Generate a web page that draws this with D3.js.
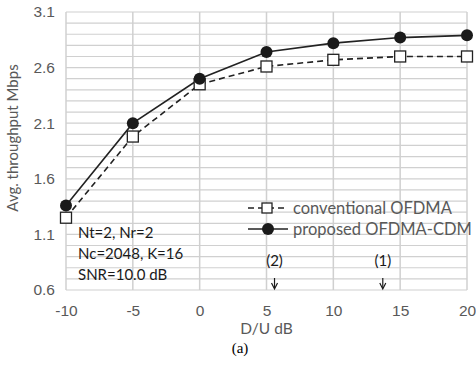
<!DOCTYPE html>
<html>
<head>
<meta charset="utf-8">
<script src="https://cdn.jsdelivr.net/npm/d3@7"></script>
<style>
  body { margin: 0; background: #fff; }
  svg { display: block; font-family: Lato, "Open Sans", sans-serif; }
</style>
</head>
<body>
<svg id="chart" width="476" height="366"></svg>
<script>
const duValues = [-10, -5, 0, 5, 10, 15, 20]
const conventional = [1.25, 1.98, 2.45, 2.61, 2.67, 2.70, 2.70]
const proposed = [1.36, 2.10, 2.50, 2.74, 2.82, 2.87, 2.89]
const yTicks = [0.6, 1.1, 1.6, 2.1, 2.6, 3.1]
const seriesNames = ['conventional OFDMA', 'proposed OFDMA-CDM']
const noteLines = ['Nt=2, Nr=2', 'Nc=2048, K=16', 'SNR=10.0 dB']
const arrowMarks = [{label: '(2)', du: 5.6}, {label: '(1)', du: 13.7}]

const svg = d3.select('#chart')
const margin = {top: 12, right: 9, bottom: 76, left: 66}
const width = 476, height = 366

const x = d3.scaleLinear().domain([-10, 20]).range([margin.left, width - margin.right])
const y = d3.scaleLinear().domain([0.6, 3.1]).range([height - margin.bottom, margin.top])

const gridColor = '#d0d0d0'
const textGrey = '#595959'

// minor horizontal grid every 0.1
const minor = d3.range(0.6, 3.1001, 0.1)
svg.append('g').selectAll('line').data(minor).join('line')
  .attr('x1', x(-10)).attr('x2', x(20))
  .attr('y1', d => y(d)).attr('y2', d => y(d))
  .attr('stroke', gridColor).attr('stroke-width', 1.2)

svg.append('g').selectAll('line').data(duValues).join('line')
  .attr('x1', d => x(d)).attr('x2', d => x(d))
  .attr('y1', y(0.6)).attr('y2', y(3.1))
  .attr('stroke', gridColor).attr('stroke-width', 1.5)

// axes (tick labels only)
const yAxis = svg.append('g')
  .attr('transform', `translate(${margin.left},0)`)
  .call(d3.axisLeft(y).tickValues(yTicks).tickFormat(d => d.toFixed(1)).tickSize(0).tickPadding(11))
yAxis.select('.domain').remove()
yAxis.selectAll('text').attr('fill', textGrey).attr('font-size', 15.5)

const xAxis = svg.append('g')
  .attr('transform', `translate(0,${y(0.6)})`)
  .call(d3.axisBottom(x).tickValues(duValues).tickFormat(d => String(d)).tickSize(0).tickPadding(15))
xAxis.select('.domain').remove()
xAxis.selectAll('text').attr('fill', textGrey).attr('font-size', 15.5)

svg.append('text')
  .attr('x', (x(-10) + x(20)) / 2).attr('y', 334)
  .attr('text-anchor', 'middle').attr('fill', textGrey).attr('font-size', 15.5)
  .text('D/U dB')

svg.append('text')
  .attr('transform', `translate(18,138) rotate(-90)`)
  .attr('text-anchor', 'middle').attr('fill', textGrey).attr('font-size', 15)
  .text('Avg. throughput Mbps')

svg.append('text')
  .attr('x', 240).attr('y', 353)
  .attr('text-anchor', 'middle').attr('font-family', '"Liberation Serif", serif')
  .attr('font-size', 15).attr('fill', '#000')
  .text('(a)')

// series
const line = d3.line().x(d => x(d[0])).y(d => y(d[1]))
const convData = duValues.map((d, i) => [d, conventional[i]])
const propData = duValues.map((d, i) => [d, proposed[i]])

svg.append('path').datum(convData)
  .attr('fill', 'none').attr('stroke', '#222').attr('stroke-width', 1.6)
  .attr('stroke-dasharray', '6,4').attr('d', line)
svg.append('path').datum(propData)
  .attr('fill', 'none').attr('stroke', '#222').attr('stroke-width', 1.6).attr('d', line)

svg.append('g').selectAll('rect').data(convData).join('rect')
  .attr('x', d => x(d[0]) - 5.5).attr('y', d => y(d[1]) - 5.5)
  .attr('width', 11).attr('height', 11)
  .attr('fill', '#fff').attr('stroke', '#222').attr('stroke-width', 1.3)
svg.append('g').selectAll('circle').data(propData).join('circle')
  .attr('cx', d => x(d[0])).attr('cy', d => y(d[1])).attr('r', 6)
  .attr('fill', '#1a1a1a')

// legend
const legend = svg.append('g')
const legY = [208, 229]
legend.append('line').attr('x1', 248).attr('x2', 287).attr('y1', legY[0]).attr('y2', legY[0])
  .attr('stroke', '#222').attr('stroke-width', 1.6).attr('stroke-dasharray', '6,4')
legend.append('rect').attr('x', 262).attr('y', legY[0] - 5).attr('width', 10).attr('height', 10)
  .attr('fill', '#fff').attr('stroke', '#222').attr('stroke-width', 1.3)
legend.append('line').attr('x1', 248).attr('x2', 288).attr('y1', legY[1]).attr('y2', legY[1])
  .attr('stroke', '#222').attr('stroke-width', 1.6)
legend.append('circle').attr('cx', 268).attr('cy', legY[1]).attr('r', 6).attr('fill', '#1a1a1a')
legend.selectAll('text.lab').data(seriesNames).join('text')
  .attr('x', 293).attr('y', (d, i) => legY[i] + 5.5)
  .attr('fill', textGrey).attr('font-size', 16.5)
  .text(d => d)

// parameter note
svg.append('g').selectAll('text').data(noteLines).join('text')
  .attr('x', 78).attr('y', (d, i) => 238 + i * 21)
  .attr('fill', '#1a1a1a').attr('font-size', 15)
  .text(d => d)

// arrows
const arr = svg.append('g').selectAll('g').data(arrowMarks).join('g')
  .attr('transform', d => `translate(${x(d.du)},0)`)
arr.append('text').attr('y', 266).attr('text-anchor', 'middle')
  .attr('fill', '#1a1a1a').attr('font-size', 15).text(d => d.label)
arr.append('line').attr('x1', 0).attr('x2', 0).attr('y1', 278).attr('y2', 288)
  .attr('stroke', '#1a1a1a').attr('stroke-width', 1.2)
arr.append('path').attr('d', 'M-3,283 L0,289 L3,283')
  .attr('fill', 'none').attr('stroke', '#1a1a1a').attr('stroke-width', 1.2)
</script>
</body>
</html>
